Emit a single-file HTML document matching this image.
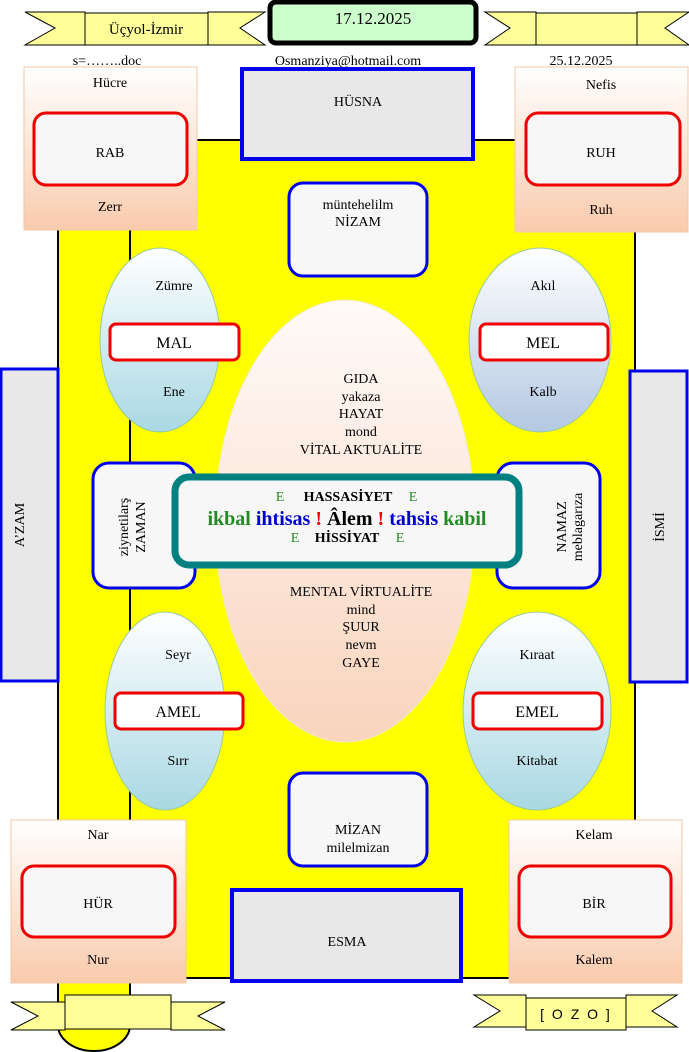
<!DOCTYPE html>
<html><head><meta charset="utf-8"><style>
html,body{margin:0;padding:0;background:#fff;width:689px;height:1052px;overflow:hidden}
svg{display:block;font-family:"Liberation Serif",serif}
</style></head><body>
<svg width="689" height="1052" viewBox="0 0 689 1052" xmlns="http://www.w3.org/2000/svg">
<defs>
<linearGradient id="peach" x1="0" y1="0" x2="0" y2="1"><stop offset="0" stop-color="#ffffff"/><stop offset="1" stop-color="#f9cbad"/></linearGradient>
<linearGradient id="blue1" x1="0" y1="0" x2="0" y2="1"><stop offset="0" stop-color="#ffffff"/><stop offset="1" stop-color="#a9d8e3"/></linearGradient>
<linearGradient id="blue2" x1="0" y1="0" x2="0" y2="1"><stop offset="0" stop-color="#ffffff"/><stop offset="1" stop-color="#b4c8e2"/></linearGradient>
<linearGradient id="big" x1="0" y1="0" x2="0" y2="1"><stop offset="0" stop-color="#fffaf8"/><stop offset="1" stop-color="#f9d4bd"/></linearGradient>
</defs>
<!-- yellow main -->
<path d="M58 1020 V1025 A36 26 0 0 0 130 1025 V1020 Z" fill="#ffff00" stroke="#000" stroke-width="2"/>
<rect x="58" y="140" width="577" height="838" fill="#ffff00" stroke="#000" stroke-width="2"/>
<rect x="58" y="970" width="72" height="56" fill="#ffff00"/>
<line x1="58" y1="140" x2="58" y2="1026" stroke="#000" stroke-width="2"/>
<line x1="130" y1="140" x2="130" y2="1026" stroke="#000" stroke-width="2"/>
<!-- top banners -->
<polygon points="25,12 85,12 85,45 25,45 55,28" fill="#ffff99" stroke="#000"/>
<polygon points="208,12 265,12 240,28 265,45 208,45" fill="#ffff99" stroke="#000"/>
<rect x="85" y="13" width="123" height="32" fill="#ffff99" stroke="#000"/>
<text x="146" y="34" font-size="15" text-anchor="middle">Üçyol-İzmir</text>
<polygon points="485,12 536,12 536,45 485,45 510,28" fill="#ffff99" stroke="#000"/>
<polygon points="637,12 689,12 665,28 689,45 637,45" fill="#ffff99" stroke="#000"/>
<rect x="536" y="13" width="101" height="32" fill="#ffff99" stroke="#000"/>
<rect x="270" y="2" width="206" height="41" rx="6" fill="#ccffcc" stroke="#000" stroke-width="5"/>
<text x="373" y="24" font-size="17" text-anchor="middle">17.12.2025</text>
<text x="107" y="65" font-size="14" text-anchor="middle">s=……..doc</text>
<text x="348" y="65" font-size="14" text-anchor="middle">Osmanziya@hotmail.com</text>
<text x="581" y="65" font-size="14" text-anchor="middle">25.12.2025</text>
<!-- corner boxes -->
<rect x="24" y="67" width="173" height="163" fill="url(#peach)" stroke="#f0c8a8"/>
<rect x="34" y="113" width="153" height="72" rx="12" fill="#f7f7f7" stroke="#e00" stroke-width="3"/>
<text x="110" y="87" font-size="14" text-anchor="middle">Hücre</text>
<text x="110" y="157" font-size="14" text-anchor="middle">RAB</text>
<text x="110" y="211" font-size="14" text-anchor="middle">Zerr</text>
<rect x="515" y="67" width="173" height="165" fill="url(#peach)" stroke="#f0c8a8"/>
<rect x="526" y="113" width="154" height="72" rx="12" fill="#f7f7f7" stroke="#e00" stroke-width="3"/>
<text x="601" y="89" font-size="14" text-anchor="middle">Nefis</text>
<text x="601" y="157" font-size="14" text-anchor="middle">RUH</text>
<text x="601" y="214" font-size="14" text-anchor="middle">Ruh</text>
<rect x="11" y="820" width="175" height="163" fill="url(#peach)" stroke="#f0c8a8"/>
<rect x="22" y="866" width="153" height="71" rx="12" fill="#f7f7f7" stroke="#e00" stroke-width="3"/>
<text x="98" y="839" font-size="14" text-anchor="middle">Nar</text>
<text x="98" y="908" font-size="14" text-anchor="middle">HÜR</text>
<text x="98" y="964" font-size="14" text-anchor="middle">Nur</text>
<rect x="509" y="820" width="173" height="163" fill="url(#peach)" stroke="#f0c8a8"/>
<rect x="519" y="866" width="152" height="71" rx="12" fill="#f7f7f7" stroke="#e00" stroke-width="3"/>
<text x="594" y="839" font-size="14" text-anchor="middle">Kelam</text>
<text x="594" y="908" font-size="14" text-anchor="middle">BİR</text>
<text x="594" y="964" font-size="14" text-anchor="middle">Kalem</text>
<!-- HÜSNA / ESMA -->
<rect x="242" y="69" width="231" height="90" fill="#e8e8e8" stroke="#0000ee" stroke-width="4"/>
<text x="358" y="106" font-size="14" text-anchor="middle">HÜSNA</text>
<rect x="232" y="890" width="229" height="91" fill="#e8e8e8" stroke="#0000ee" stroke-width="4"/>
<text x="347" y="946" font-size="14" text-anchor="middle">ESMA</text>
<!-- side bars -->
<rect x="1" y="369" width="57" height="312" fill="#e8e8e8" stroke="#0000ee" stroke-width="3"/>
<text transform="translate(24,525) rotate(-90)" font-size="14" text-anchor="middle">A’ZAM</text>
<rect x="630" y="371" width="57" height="311" fill="#e8e8e8" stroke="#0000ee" stroke-width="3"/>
<text transform="translate(664,527) rotate(-90)" font-size="14" text-anchor="middle">İSMİ</text>
<!-- NİZAM / MİZAN -->
<rect x="289" y="183" width="138" height="93" rx="14" fill="#f7f7f7" stroke="#0000ee" stroke-width="3"/>
<text x="358" y="209" font-size="14" text-anchor="middle">müntehelilm</text>
<text x="358" y="226" font-size="14" text-anchor="middle">NİZAM</text>
<rect x="289" y="773" width="138" height="93" rx="14" fill="#f7f7f7" stroke="#0000ee" stroke-width="3"/>
<text x="358" y="834" font-size="14" text-anchor="middle">MİZAN</text>
<text x="358" y="852" font-size="14" text-anchor="middle">milelmizan</text>
<!-- upper ellipses -->
<ellipse cx="160" cy="340" rx="60" ry="92" fill="url(#blue1)" stroke="#9c9"/>
<rect x="110" y="324" width="129" height="36" rx="6" fill="#fff" stroke="#e00" stroke-width="3"/>
<text x="174" y="290" font-size="14" text-anchor="middle">Zümre</text>
<text x="174" y="348" font-size="16" text-anchor="middle">MAL</text>
<text x="174" y="396" font-size="14" text-anchor="middle">Ene</text>
<ellipse cx="540" cy="340" rx="71" ry="92" fill="url(#blue2)" stroke="#9c9"/>
<rect x="480" y="324" width="128" height="36" rx="6" fill="#fff" stroke="#e00" stroke-width="3"/>
<text x="543" y="290" font-size="14" text-anchor="middle">Akıl</text>
<text x="543" y="348" font-size="16" text-anchor="middle">MEL</text>
<text x="543" y="396" font-size="14" text-anchor="middle">Kalb</text>
<!-- big ellipse -->
<ellipse cx="345" cy="521" rx="130" ry="221" fill="url(#big)" stroke="#eeb"/>
<g font-size="14" text-anchor="middle">
<text x="361" y="383">GIDA</text><text x="361" y="401">yakaza</text><text x="361" y="418">HAYAT</text><text x="361" y="436">mond</text><text x="361" y="454">VİTAL AKTUALİTE</text>
<text x="361" y="596">MENTAL VİRTUALİTE</text><text x="361" y="614">mind</text><text x="361" y="631">ŞUUR</text><text x="361" y="649">nevm</text><text x="361" y="667">GAYE</text>
</g>
<!-- lower ellipses -->
<ellipse cx="165" cy="711" rx="60" ry="99" fill="url(#blue1)" stroke="#9c9"/>
<rect x="115" y="693" width="128" height="36" rx="6" fill="#fff" stroke="#e00" stroke-width="3"/>
<text x="178" y="659" font-size="14" text-anchor="middle">Seyr</text>
<text x="178" y="717" font-size="16" text-anchor="middle">AMEL</text>
<text x="178" y="765" font-size="14" text-anchor="middle">Sırr</text>
<ellipse cx="537" cy="711" rx="74" ry="99" fill="url(#blue1)" stroke="#9c9"/>
<rect x="473" y="693" width="129" height="36" rx="6" fill="#fff" stroke="#e00" stroke-width="3"/>
<text x="537" y="659" font-size="14" text-anchor="middle">Kıraat</text>
<text x="537" y="717" font-size="16" text-anchor="middle">EMEL</text>
<text x="537" y="765" font-size="14" text-anchor="middle">Kitabat</text>
<!-- ZAMAN / NAMAZ -->
<rect x="93" y="463" width="102" height="125" rx="16" fill="#f7f7f7" stroke="#0000ee" stroke-width="3"/>
<text transform="translate(128,527) rotate(-90)" font-size="14" text-anchor="middle">ziynetilarş</text>
<text transform="translate(145,527) rotate(-90)" font-size="14" text-anchor="middle">ZAMAN</text>
<rect x="497" y="463" width="103" height="125" rx="16" fill="#f7f7f7" stroke="#0000ee" stroke-width="3"/>
<text transform="translate(566,527) rotate(-90)" font-size="14" text-anchor="middle">NAMAZ</text>
<text transform="translate(582,527) rotate(-90)" font-size="14" text-anchor="middle">meblagarıza</text>
<!-- center -->
<rect x="175" y="477" width="344" height="88" rx="14" fill="#f7f7f7" stroke="#008080" stroke-width="7"/>
<text x="280" y="501" font-size="14" fill="#228b22" text-anchor="middle">E</text>
<text x="348" y="501" font-size="14" font-weight="bold" text-anchor="middle">HASSASİYET</text>
<text x="413" y="501" font-size="14" fill="#228b22" text-anchor="middle">E</text>
<text x="347" y="525" font-size="20" font-weight="bold" text-anchor="middle"><tspan fill="#228b22">ikbal</tspan> <tspan fill="#0000cc">ihtisas</tspan> <tspan fill="#e00">!</tspan> Âlem <tspan fill="#e00">!</tspan> <tspan fill="#0000cc">tahsis</tspan> <tspan fill="#228b22">kabil</tspan></text>
<text x="295" y="542" font-size="14" fill="#228b22" text-anchor="middle">E</text>
<text x="347" y="542" font-size="14" font-weight="bold" text-anchor="middle">HİSSİYAT</text>
<text x="400" y="542" font-size="14" fill="#228b22" text-anchor="middle">E</text>
<!-- bottom banners -->
<polygon points="11,1002 65,1002 65,1030 11,1030 38,1016" fill="#ffff99" stroke="#000"/>
<polygon points="171,1002 225,1002 198,1016 225,1030 171,1030" fill="#ffff99" stroke="#000"/>
<rect x="65" y="995" width="106" height="34" fill="#ffff99" stroke="#000"/>
<polygon points="474,995 526,995 526,1027 474,1027 500,1011" fill="#ffff99" stroke="#000"/>
<polygon points="626,995 677,995 652,1011 677,1027 626,1027" fill="#ffff99" stroke="#000"/>
<rect x="526" y="998" width="100" height="32" fill="#ffff99" stroke="#000"/>
<text x="576" y="1019" font-size="14" text-anchor="middle" font-family="Liberation Sans, sans-serif" letter-spacing="2">[ O Z O ]</text>
</svg>
</body></html>
